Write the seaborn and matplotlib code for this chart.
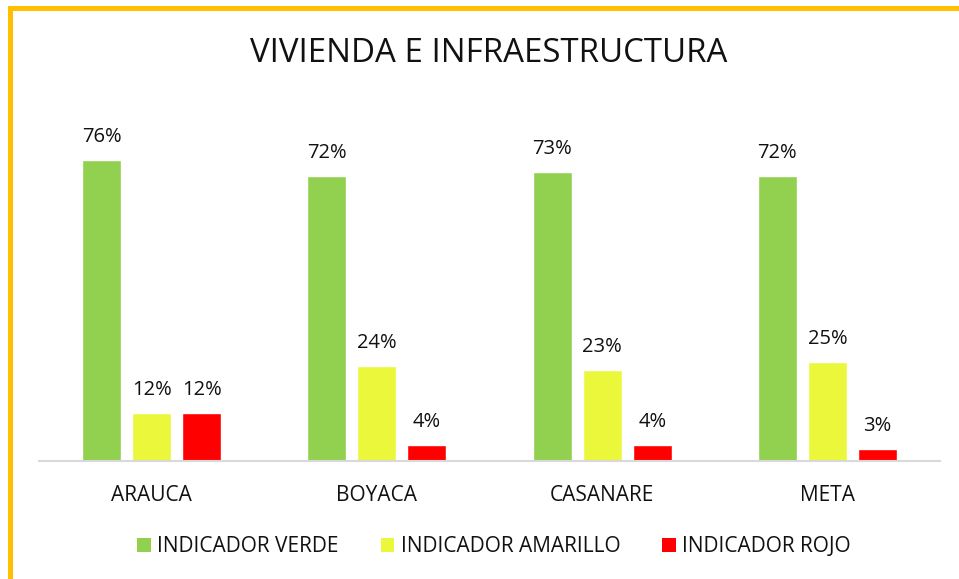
import matplotlib
matplotlib.use("Agg")
import matplotlib.pyplot as plt
import seaborn as sns
import pandas as pd
from matplotlib.patches import Rectangle, Patch

categories = ["ARAUCA", "BOYACA", "CASANARE", "META"]
series = ["INDICADOR VERDE", "INDICADOR AMARILLO", "INDICADOR ROJO"]
verde = [0.76, 0.72, 0.73, 0.72]
amarillo = [0.12, 0.24, 0.23, 0.25]
rojo = [0.12, 0.04, 0.04, 0.03]
colors = ["#92D050", "#EAF73A", "#FF0000"]

df = pd.DataFrame({
    "cat": categories * 3,
    "serie": [series[0]] * 4 + [series[1]] * 4 + [series[2]] * 4,
    "val": verde + amarillo + rojo,
})

sns.set_style("white")
plt.rcParams["font.family"] = ["Open Sans", "DejaVu Sans"]

W, H = 959, 579
fig = plt.figure(figsize=(W / 100, H / 100), dpi=100)
left, right, bottom, top = 39, 940, 461, 120
ax = fig.add_axes([left / W, 1 - bottom / H, (right - left) / W, (bottom - top) / H])

sns.barplot(data=df, x="cat", y="val", hue="serie", order=categories, hue_order=series,
            palette=colors, width=0.667, gap=0.22, ax=ax, legend=False, saturation=1)

ax.set_ylim(0, (bottom - top) / 396)
ax.set_xlim(-0.5, 3.5)
for c in ax.containers:
    ax.bar_label(c, labels=[f"{v*100:.0f}%" for v in c.datavalues], padding=9.5,
                 fontsize=14.5, color="#111111")
for s in ["top", "right", "left"]:
    ax.spines[s].set_visible(False)
ax.spines["bottom"].set_color("#D9D9D9")
ax.spines["bottom"].set_linewidth(1.5)
ax.set_yticks([])
ax.set_xlabel("")
ax.set_ylabel("")
ax.tick_params(axis="x", length=0, pad=17.5, labelsize=15, labelcolor="#111111")

fig.text(489 / W, 1 - 53 / H, "VIVIENDA E INFRAESTRUCTURA", ha="center", va="center",
         fontsize=23.8, color="#111111")

handles = [Patch(facecolor=c, edgecolor="none") for c in colors]
fig.legend(handles, series, loc="center", bbox_to_anchor=(494 / W, 1 - 547 / H), ncol=3,
           frameon=False, fontsize=15, handlelength=0.67, handleheight=0.67,
           handletextpad=0.3, columnspacing=2.0, labelcolor="#111111")

fig.patches.append(Rectangle((9.5 / W, -0.1), 1.2, 1 - 7.5 / H + 0.1,
                             transform=fig.transFigure, fill=False,
                             edgecolor="#FFC000", linewidth=3.6, figure=fig))

fig.savefig("out.png", dpi=100)
